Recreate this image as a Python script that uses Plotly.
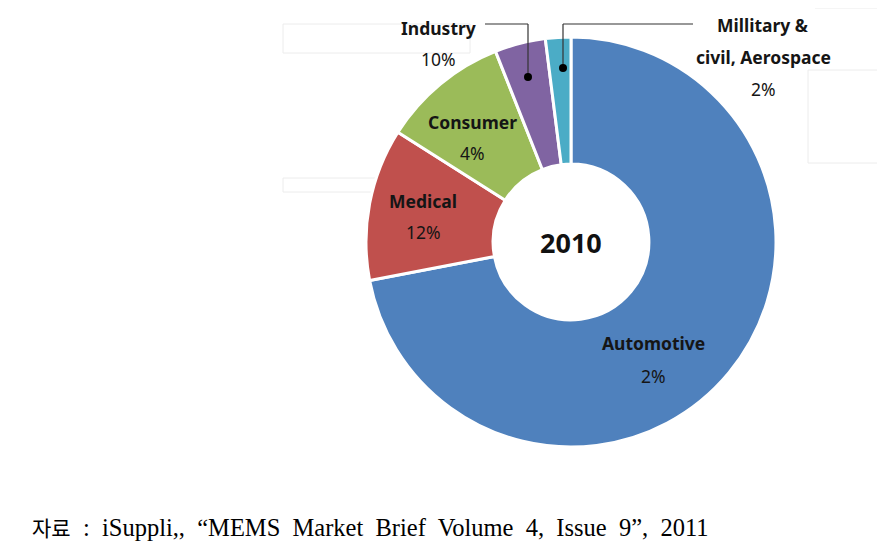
import plotly.graph_objects as go

# data
segments = ["Automotive", "Medical", "Consumer", "Industry", "Millitary & civil, Aerospace"]
shares = [72, 12, 10, 4, 2]
# percentage labels exactly as printed in the source figure
printed_pct = ["2%", "12%", "4%", "10%", "2%"]
colors = ["#4F81BD", "#C0504D", "#9BBB59", "#8064A2", "#4BACC6"]
year = "2010"
note_kr = "자료"
note_en = " : iSuppli,, “MEMS Market Brief Volume 4, Issue 9”, 2011"

W, H = 885, 550
OFF = 8  # page body margin
cx, cy, R = 571, 242, 205  # pie centre / radius in px (screen coords)


def px(x):
    return (x - OFF) / W


def py(y):
    return 1 - (y - OFF) / H


fig = go.Figure(go.Pie(
    labels=segments,
    values=shares,
    sort=False,
    direction="clockwise",
    rotation=0,
    hole=0.38,
    marker=dict(colors=colors, line=dict(color="white", width=3)),
    textinfo="none",
    showlegend=False,
    domain=dict(x=[px(cx - R), px(cx + R)], y=[py(cy + R), py(cy - R)]),
))

lab_font = dict(family="Noto Sans, Open Sans, sans-serif", size=17.5, color="#151515")

# label placement (name pos, pct pos) per segment
label_pos = {
    "Automotive": ((653, 343), (653, 376)),
    "Medical": ((423, 201), (423, 232)),
    "Consumer": ((472, 122), (472, 153)),
    "Industry": ((438, 28), (438, 59)),
}

ann = []
for name, pct in zip(segments, printed_pct):
    if name not in label_pos:
        continue
    (nx, ny), (qx, qy) = label_pos[name]
    ann.append(dict(x=px(nx), y=py(ny), text="<b>" + name + "</b>", showarrow=False,
                    xref="paper", yref="paper", font=lab_font, xanchor="center", yanchor="middle"))
    ann.append(dict(x=px(qx), y=py(qy), text=pct, showarrow=False,
                    xref="paper", yref="paper", font=lab_font, xanchor="center", yanchor="middle"))

# military label, three lines
for txt, y in [("<b>Millitary &</b>", 25), ("<b>civil, Aerospace</b>", 57), (printed_pct[4], 89)]:
    ann.append(dict(x=px(763), y=py(y), text=txt, showarrow=False, xref="paper", yref="paper",
                    font=lab_font, xanchor="center", yanchor="middle"))

ann.append(dict(x=px(cx), y=py(cy), text="<b>" + year + "</b>", showarrow=False,
                xref="paper", yref="paper",
                font=dict(family="Noto Sans, sans-serif", size=27, color="#111111")))

# source line - original is justified so the word gaps are wide
ann.append(dict(x=px(30), y=py(527), showarrow=False, xref="paper", yref="paper",
                text='<span style="font-family:Noto Sans CJK KR;font-size:21px">' + note_kr + "</span>"
                     + note_en.replace(" ", "&nbsp; "),
                xanchor="left", yanchor="middle",
                font=dict(family="Liberation Serif, serif", size=24.5, color="black")))

shapes = []
# faint background boxes (scan artefacts in the original)
for x0, y0, x1, y1 in [(283, 24, 470, 53), (283, 178, 510, 192), (808, 70, 885, 163), (815, -2, 885, 8)]:
    shapes.append(dict(type="rect", xref="paper", yref="paper", x0=px(x0), x1=px(x1),
                       y0=py(y1), y1=py(y0), line=dict(color="#ececec", width=1), layer="below"))

# leader lines
for path in [[(485, 24), (528, 24), (528, 77)], [(693, 24), (563, 24), (563, 68)]]:
    for (xa, ya), (xb, yb) in zip(path[:-1], path[1:]):
        shapes.append(dict(type="line", xref="paper", yref="paper", x0=px(xa), y0=py(ya),
                           x1=px(xb), y1=py(yb), line=dict(color="#333333", width=1.2)))
    ex, ey = path[-1]
    shapes.append(dict(type="circle", xref="paper", yref="paper", x0=px(ex - 4), x1=px(ex + 4),
                       y0=py(ey + 4), y1=py(ey - 4), fillcolor="black", line=dict(width=0)))

fig.update_layout(
    width=W, height=H,
    margin=dict(l=0, r=0, t=0, b=0),
    paper_bgcolor="white", plot_bgcolor="white",
    annotations=ann, shapes=shapes,
)

fig.write_html("out.html")
